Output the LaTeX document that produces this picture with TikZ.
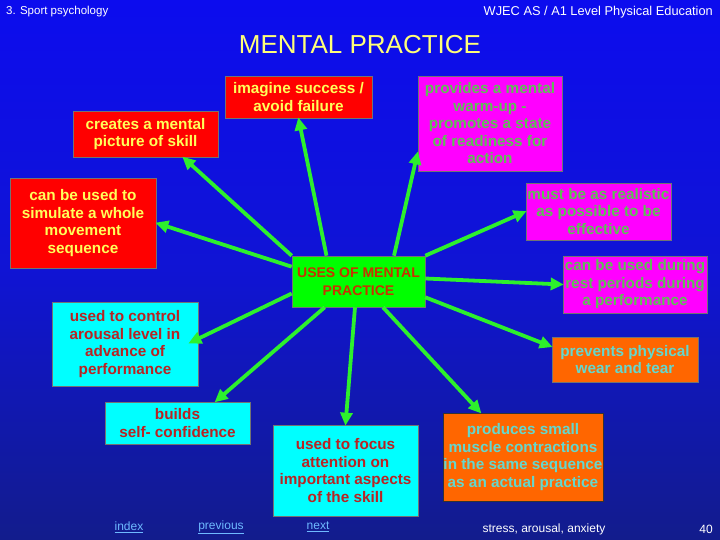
\documentclass[tikz,border=0pt]{standalone}
\usepackage{fontspec}
\setmainfont{Liberation Sans}
\usetikzlibrary{arrows.meta,calc}
\definecolor{bgtop}{RGB}{12,12,238}
\definecolor{bgmid}{RGB}{16,20,212}
\definecolor{bgbot}{RGB}{18,28,140}
\definecolor{bred}{RGB}{255,0,0}
\definecolor{bmag}{RGB}{255,0,255}
\definecolor{bcyan}{RGB}{0,255,255}
\definecolor{borange}{RGB}{255,102,0}
\definecolor{bgreen}{RGB}{0,255,0}
\definecolor{tyellow}{RGB}{255,255,90}
\definecolor{tgreen}{RGB}{95,190,85}
\definecolor{tdred}{RGB}{185,35,35}
\definecolor{tcyan}{RGB}{100,215,205}
\definecolor{tbrown}{RGB}{200,50,0}
\definecolor{arrgreen}{RGB}{45,240,45}
\definecolor{titleyellow}{RGB}{255,255,120}
\definecolor{linkblue}{RGB}{110,185,255}
\begin{document}
\begin{tikzpicture}[x=1pt,y=1pt,
  box/.style={draw=black!55,line width=0.6pt,inner sep=0pt,align=center,
    font=\bfseries\fontsize{15.3}{17.5}\selectfont},
  redbox/.style={box,fill=bred,text=tyellow},
  magbox/.style={box,fill=bmag,text=tgreen},
  cyanbox/.style={box,fill=bcyan,text=tdred},
  orbox/.style={box,fill=borange,text=tcyan},
  arr/.style={draw=arrgreen,line width=3.8pt,-{Triangle[length=13pt,width=12pt]},shorten >=-1pt},
  hdr/.style={text=white,font=\fontsize{11.5}{13}\selectfont,inner sep=0pt},
  lnk/.style={text=linkblue,font=\fontsize{12}{14}\selectfont,inner sep=0pt}]
\useasboundingbox (0,0) rectangle (720,-540);
\shade[top color=bgtop,bottom color=bgbot,middle color=bgmid] (0,0) rectangle (720,-540);

% header and title
\node[hdr,anchor=west] (hl) at (6,-12) {3. Sport psychology};
\node[hdr,anchor=east,font=\fontsize{12.8}{14}\selectfont] (hr) at (713,-12) {WJEC AS / A1 Level Physical Education};
\node[text=titleyellow,font=\fontsize{26}{30}\selectfont,inner sep=0pt] (title) at (360,-45) {MENTAL PRACTICE};

% boxes
\node[redbox,minimum width=147,minimum height=42] (imag) at (298.5,-97) {imagine success /\\avoid failure};
\node[redbox,minimum width=145,minimum height=46] (creat) at (145.5,-134) {creates a mental\\picture of skill};
\node[magbox,minimum width=144,minimum height=95] (warm) at (490,-123.5) {provides a mental\\warm-up -\\promotes a state\\of readiness for\\action};
\node[redbox,minimum width=146,minimum height=90] (sim) at (83,-223) {can be used to\\simulate a whole\\movement\\sequence};
\node[magbox,minimum width=145,minimum height=57] (real) at (598.5,-211.5) {must be as realistic\\as possible to be\\effective};
\node[box,fill=bgreen,text=tbrown,font=\bfseries\fontsize{14}{17.5}\selectfont,minimum width=133,minimum height=51] (c) at (358.5,-281.5) {USES OF MENTAL\\PRACTICE};
\node[magbox,minimum width=144,minimum height=57] (rest) at (635,-284.5) {can be used during\\rest periods during\\a performance};
\node[cyanbox,minimum width=146,minimum height=84] (arous) at (125,-344) {used to control\\arousal level in\\advance of\\performance};
\node[orbox,minimum width=146,minimum height=45] (prev) at (625,-359.5) {prevents physical\\wear and tear};
\node[cyanbox,minimum width=145,minimum height=42] (build) at (177.5,-423) {builds\\self- confidence};
\node[cyanbox,minimum width=145,minimum height=91] (focus) at (345.5,-470.5) {used to focus\\attention on\\important aspects\\of the skill};
\node[orbox,draw=black!80,minimum width=160,minimum height=88] (prod) at (523,-457) {produces small\\muscle contractions\\in the same sequence\\as an actual practice};

% connectors
\draw[arr] (c.north west) -- ($(creat.south)+(37.5,0)$);
\draw[arr] ($(c.north)+(-32,0)$) -- (imag.south);
\draw[arr] ($(c.north)+(35.5,0)$) -- ($(warm.south west)+(0,19)$);
\draw[arr] ($(c.north west)+(0,-11)$) -- (sim.east);
\draw[arr] (c.north east) -- (real.west);
\draw[arr] ($(c.east)+(0,3)$) -- (rest.west);
\draw[arr] ($(c.south east)+(0,10)$) -- ($(prev.north west)+(0,-10)$);
\draw[arr] ($(c.west)+(0,-12)$) -- ($(arous.east)+(-9,1)$);
\draw[arr] ($(c.south west)+(33,0)$) -- ($(build.north east)+(-35,0)$);
\draw[arr] ($(c.south)+(-3.5,0)$) -- (focus.north);
\draw[arr] ($(c.south)+(24.5,0)$) -- ($(prod.north west)+(38,0)$);

% footer
\node[lnk] (idx) at (129,-527) {\underline{index}};
\node[lnk] (prv) at (221,-527) {\underline{previous}};
\node[lnk] (nxt) at (318,-527) {\underline{next}};
\node[hdr,font=\fontsize{12}{14}\selectfont] (topic) at (544,-529) {stress, arousal, anxiety};
\node[hdr,font=\fontsize{12}{14}\selectfont] (pg) at (706,-529) {40};
\end{tikzpicture}
\end{document}
